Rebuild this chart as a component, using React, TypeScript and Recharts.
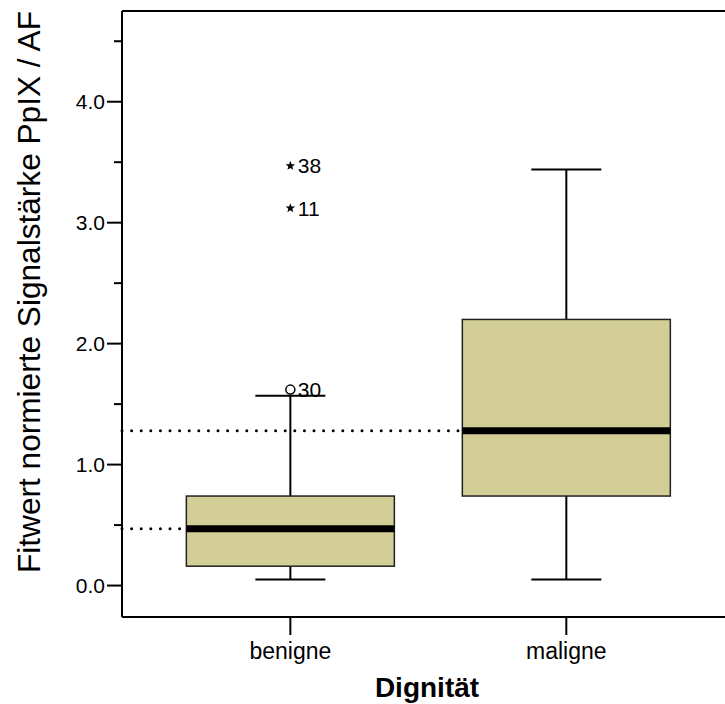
import { ComposedChart, Bar, Scatter, XAxis, YAxis, ReferenceLine, LabelList } from 'recharts'

// Boxplot: Fitwert je Dignität (SPSS-Stil)
const categories = ['benigne', 'maligne']
const catPositions = [1, 2]
const whiskerLow = [0.05, 0.05]
const quartile1 = [0.16, 0.74]
const medians = [0.47, 1.28]
const quartile3 = [0.74, 2.2]
const whiskerHigh = [1.57, 3.44]

const outlierCategory = [1, 1, 1]
const outlierValues = [1.62, 3.12, 3.47]
const outlierIds = ['30', '11', '38']
const outlierMarks = ['circle', 'star', 'star']

const majorTicks = [0, 1, 2, 3, 4]
const minorTicks = [0.5, 1.5, 2.5, 3.5, 4.5]

const FONT = 'Arial, "Liberation Sans", sans-serif'
const BOX_FILL = '#d3ce98'
const xDomain = [0.39, 2.575]
const yDomain = [-0.26, 4.75]
const BOX_WIDTH = 208
const BOX_HALF_UNITS = 104 / 276

const boxData = categories.map((name, i) => ({
  x: catPositions[i],
  name,
  lo: whiskerLow[i],
  q1: quartile1[i],
  med: medians[i],
  q3: quartile3[i],
  hi: whiskerHigh[i],
}))

const outlierData = outlierValues.map((v, i) => ({
  x: outlierCategory[i],
  y: v,
  id: outlierIds[i],
  mark: outlierMarks[i],
}))

const BoxShape = (props: any) => {
  const { x, y, width, height, payload } = props
  if (!payload) return null
  const span = payload.hi - payload.lo
  const py = (v: number) => y + ((payload.hi - v) / span) * height
  const cx = x + width / 2
  const capHalf = 35
  return (
    <g>
      <line x1={cx} x2={cx} y1={py(payload.hi)} y2={py(payload.lo)} stroke="#000" strokeWidth={2} />
      <line x1={cx - capHalf} x2={cx + capHalf} y1={py(payload.hi)} y2={py(payload.hi)} stroke="#000" strokeWidth={2} />
      <line x1={cx - capHalf} x2={cx + capHalf} y1={py(payload.lo)} y2={py(payload.lo)} stroke="#000" strokeWidth={2} />
      <rect
        x={x}
        y={py(payload.q3)}
        width={width}
        height={py(payload.q1) - py(payload.q3)}
        fill={BOX_FILL}
        stroke="#222"
        strokeWidth={1.5}
      />
      <line x1={x} x2={x + width} y1={py(payload.med)} y2={py(payload.med)} stroke="#000" strokeWidth={7} />
    </g>
  )
}

const OutlierShape = (props: any) => {
  const { cx, cy, payload } = props
  if (payload.mark === 'circle') {
    return <circle cx={cx} cy={cy} r={4.5} fill="#fff" stroke="#000" strokeWidth={1.5} />
  }
  const pts: string[] = []
  for (let k = 0; k < 10; k++) {
    const r = k % 2 === 0 ? 5 : 2.1
    const a = -Math.PI / 2 + (k * Math.PI) / 5
    pts.push(`${cx + r * Math.cos(a)},${cy + r * Math.sin(a)}`)
  }
  return <polygon points={pts.join(' ')} fill="#000" />
}

const YTick = (props: any) => {
  const { x, y, payload } = props
  const major = majorTicks.includes(payload.value)
  return (
    <g>
      <line x1={x - (major ? 15 : 8)} x2={x} y1={y} y2={y} stroke="#000" strokeWidth={2} />
      {major && (
        <text x={x - 17} y={y} dy={7.5} textAnchor="end" fontSize={21} fontFamily={FONT} fill="#000">
          {payload.value.toFixed(1)}
        </text>
      )}
    </g>
  )
}

const XTick = (props: any) => {
  const { x, y, payload } = props
  return (
    <g>
      <line x1={x} x2={x} y1={y} y2={y + 18} stroke="#000" strokeWidth={2} />
      <text x={x} y={y + 42} textAnchor="middle" fontSize={23} fontFamily={FONT} fill="#000">
        {categories[catPositions.indexOf(payload.value)]}
      </text>
    </g>
  )
}

export default function App() {
  return (
    <div style={{ position: 'absolute', left: 0, top: 0, width: 725, height: 704, background: '#fff' }}>
      <ComposedChart
        width={725}
        height={704}
        data={boxData}
        margin={{ top: 11, right: 0, bottom: 27, left: 0 }}
      >
        <XAxis
          dataKey="x"
          type="number"
          domain={xDomain}
          ticks={catPositions}
          allowDataOverflow
          height={60}
          axisLine={{ stroke: '#000', strokeWidth: 2 }}
          tickLine={false}
          tickSize={0}
          tickMargin={0}
          tick={<XTick />}
          label={{
            content: () => (
              <text x={427} y={697} textAnchor="middle" fontSize={28} fontWeight="bold" fontFamily={FONT} fill="#000">
                Dignität
              </text>
            ),
          }}
        />
        <YAxis
          type="number"
          domain={yDomain}
          ticks={[...majorTicks, ...minorTicks].sort((a, b) => a - b)}
          allowDataOverflow
          width={122}
          axisLine={{ stroke: '#000', strokeWidth: 2 }}
          tickLine={false}
          tickSize={0}
          tickMargin={0}
          tick={<YTick />}
          interval={0}
          label={{
            content: () => (
              <text
                x={0}
                y={0}
                transform="translate(40, 292) rotate(-90)"
                textAnchor="middle"
                fontSize={32}
                textLength={562}
                lengthAdjust="spacingAndGlyphs"
                fontFamily={FONT}
                fill="#000"
              >
                Fitwert  normierte Signalstärke PpIX / AF
              </text>
            ),
          }}
        />
        <ReferenceLine y={yDomain[1]} stroke="#000" strokeWidth={2} />
        {boxData.map((d) => (
          <ReferenceLine
            key={d.name}
            segment={[
              { x: xDomain[0], y: d.med },
              { x: d.x - BOX_HALF_UNITS, y: d.med },
            ]}
            stroke="#000"
            strokeWidth={3}
            strokeDasharray="0 9.6"
            strokeLinecap="round"
          />
        ))}
        <Bar
          dataKey={(d: any) => [d.lo, d.hi]}
          barSize={BOX_WIDTH}
          shape={<BoxShape />}
          isAnimationActive={false}
        />
        <Scatter data={outlierData} dataKey="y" shape={<OutlierShape />} isAnimationActive={false}>
          <LabelList dataKey="id" position="right" offset={3} fontSize={21} fontFamily={FONT} fill="#000" />
        </Scatter>
      </ComposedChart>
    </div>
  )
}
